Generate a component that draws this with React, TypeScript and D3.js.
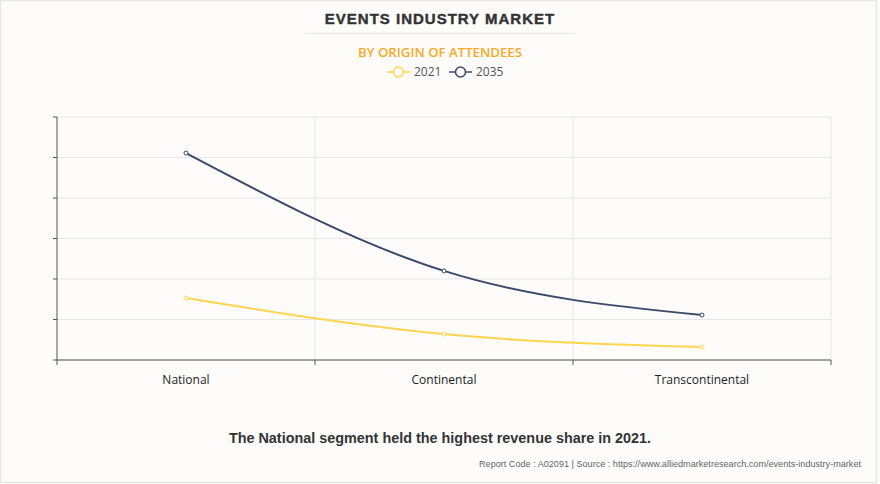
import React from "react";
import * as d3 from "d3";

const categories = ["National", "Continental", "Transcontinental"];
const seriesNames = ["2021", "2035"];
const values2021 = [15.3, 6.4, 3.2];
const values2035 = [51.1, 22.0, 11.1];
const yTicks = [0, 10, 20, 30, 40, 50, 60];
const seriesColors = ["#FFD54F", "#3B4A6B"];

const W = 880;
const H = 484;
const M = { left: 57, right: 831, top: 117, bottom: 360 };

export default function App() {
  const x = d3.scaleBand<string>().domain(categories).range([M.left, M.right]);
  const y = d3.scaleLinear().domain([0, 60]).range([M.bottom, M.top]);
  const line = d3
    .line<number>()
    .x((_, i) => (x(categories[i]) as number) + x.bandwidth() / 2)
    .y((d) => y(d))
    .curve(d3.curveMonotoneX);
  const series = [values2021, values2035];
  const bandEdges = [...categories.map((c) => x(c) as number), M.right];

  return (
    <svg
      width={W}
      height={H}
      style={{ position: "absolute", left: 0, top: 0, display: "block" }}
    >
      <rect x={0} y={0} width={W} height={H} fill="#fdfcfb" />
      <rect x={0.5} y={0.5} width={876} height={482} fill="none" stroke="#e6e6e6" strokeWidth={1.5} />

      <text
        x={440}
        y={24}
        textAnchor="middle"
        fontFamily="'Liberation Sans', Arial, sans-serif"
        fontWeight={900}
        fontSize={15}
        letterSpacing={1.0}
        fill="#333"
        stroke="#333"
        strokeWidth={0.4}
      >
        EVENTS INDUSTRY MARKET
      </text>
      <line x1={305} x2={575} y1={33.5} y2={33.5} stroke="#ececec" strokeWidth={1.5} />
      <text
        x={440}
        y={57}
        textAnchor="middle"
        fontFamily="'Open Sans', 'Noto Sans', sans-serif"
        fontWeight={600}
        fontSize={13.2}
        fill="#F9A825"
      >
        BY ORIGIN OF ATTENDEES
      </text>

      {seriesNames.map((s, i) => {
        const lx = [387, 449][i];
        return (
          <g key={s}>
            <line x1={lx} x2={lx + 23} y1={72} y2={72} stroke={seriesColors[i]} strokeWidth={1.5} />
            <circle cx={lx + 11.5} cy={72} r={5} fill="#fdfcfb" stroke={seriesColors[i]} strokeWidth={1.5} />
            <text
              x={lx + 27}
              y={76}
              fontFamily="'Open Sans', 'Noto Sans', sans-serif"
              fontSize={12}
              fill="#555"
            >
              {s}
            </text>
          </g>
        );
      })}

      {yTicks.map((t) => (
        <g key={t}>
          <line x1={M.left} x2={M.right} y1={y(t)} y2={y(t)} stroke="#e6e6e6" strokeWidth={1} />
          <line x1={M.left - 4} x2={M.left} y1={y(t)} y2={y(t)} stroke="#555" strokeWidth={1} />
        </g>
      ))}
      {bandEdges.map((bx, i) =>
        i === 0 ? null : (
          <line key={i} x1={bx} x2={bx} y1={M.top} y2={M.bottom} stroke="#e6e6e6" strokeWidth={1} />
        )
      )}
      <line x1={M.left} x2={M.left} y1={M.top} y2={M.bottom} stroke="#555" strokeWidth={1} />
      <line x1={M.left} x2={M.right} y1={M.bottom} y2={M.bottom} stroke="#555" strokeWidth={1} />
      {bandEdges.map((bx, i) => (
        <line key={"t" + i} x1={bx} x2={bx} y1={M.bottom} y2={M.bottom + 5} stroke="#555" strokeWidth={1} />
      ))}
      {categories.map((c) => (
        <text
          key={c}
          x={(x(c) as number) + x.bandwidth() / 2}
          y={384}
          textAnchor="middle"
          fontFamily="'Open Sans', 'Noto Sans', sans-serif"
          fontSize={12}
          fill="#222"
        >
          {c}
        </text>
      ))}

      {series.map((vals, i) => (
        <g key={i}>
          <path d={line(vals) || ""} fill="none" stroke={seriesColors[i]} strokeWidth={2} />
          {vals.map((v, j) => (
            <circle
              key={j}
              cx={(x(categories[j]) as number) + x.bandwidth() / 2}
              cy={y(v)}
              r={2}
              fill="#fff"
              stroke={seriesColors[i]}
              strokeWidth={1}
            />
          ))}
        </g>
      ))}

      <text
        x={440}
        y={443}
        textAnchor="middle"
        fontFamily="'Liberation Sans', Arial, sans-serif"
        fontWeight={700}
        fontSize={14.4}
        fill="#333"
      >
        The National segment held the highest revenue share in 2021.
      </text>
      <text
        x={861}
        y={467}
        textAnchor="end"
        fontFamily="'Liberation Sans', Arial, sans-serif"
        fontSize={9.1}
        fill="#666"
      >
        Report Code : A02091  |  Source : https://www.alliedmarketresearch.com/events-industry-market
      </text>
    </svg>
  );
}
